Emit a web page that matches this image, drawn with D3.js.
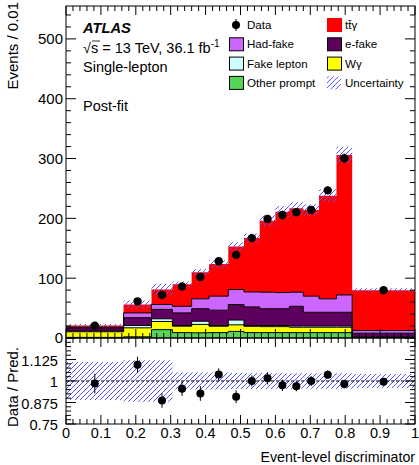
<!DOCTYPE html>
<html>
<head>
<meta charset="utf-8">
<script src="https://cdn.jsdelivr.net/npm/d3@7"></script>
<style>
  body { margin: 0; background: #fff; }
  svg { display: block; font-family: "Liberation Sans", Arial, Helvetica, sans-serif; }
</style>
</head>
<body>
<svg id="draw" width="419" height="465"></svg>
<script>
// bin edges of the event-level discriminator
var edges = [0, 0.165, 0.245, 0.305, 0.36, 0.41, 0.465, 0.51, 0.555, 0.6, 0.64, 0.68, 0.725, 0.775, 0.82, 1.0];

// post-fit predictions, events / 0.01 (stacked bottom to top)
var otherPrompt = [1, 2, 14, 9, 8.7, 9, 11, 9, 9, 9, 9, 9, 9, 9, 0.5];
var wGamma      = [9.4, 15, 13.6, 10.7, 14, 10.7, 11, 10.5, 10, 10, 9, 9, 9, 9, 0.5];
var fakeLepton  = [1.3, 4, 4.5, 1.3, 5.3, 1, 8, 1.5, 2, 2, 2, 2, 2, 2, 0.5];
var eFake       = [5, 13, 15.7, 21, 21, 25.8, 26, 31, 28, 28, 33, 23, 23, 23, 6.5];
var hadFake     = [1.3, 8, 8.3, 11, 16.5, 23.5, 25, 25, 27.6, 27, 23.6, 27, 22.5, 29, 4.5];
var ttgamma     = [3, 14, 24.9, 37, 44.5, 53.7, 72, 90, 119.4, 135, 140.4, 144, 172.5, 234, 67.5];

// data and its error, events / 0.01
var data    = [20.7, 61.3, 71.8, 86, 102, 128.3, 139, 167, 199, 205.7, 210.3, 214, 246.8, 300.5, 79.7];
var dataErr = [1.2, 2.6, 3.4, 3.8, 4.7, 4.5, 5.7, 5.4, 6.9, 7.0, 6.3, 6.2, 5.8, 7.8, 1.7];

// relative uncertainty of the prediction
var relUnc = [0.11, 0.12, 0.12, 0.05, 0.05, 0.05, 0.047, 0.047, 0.047, 0.045, 0.045, 0.045, 0.045, 0.045, 0.04];

var yTicks = [0, 100, 200, 300, 400, 500];
var ratioTicks = [0.75, 0.875, 1, 1.125];
var xTicks = [0, 0.1, 0.2, 0.3, 0.4, 0.5, 0.6, 0.7, 0.8, 0.9, 1];

var keys = ["other", "wgamma", "fake", "efake", "hadfake", "ttgamma"];
var colors = {
  other: "#55d455", wgamma: "#ffff00", fake: "#ccffff",
  efake: "#5e005e", hadfake: "#cc66ff", ttgamma: "#ff0000"
};

var pLeft = 66, pRight = 415, pTop = 6, pMid = 338, pBottom = 424;

var svg = d3.select("#draw");

var x = d3.scaleLinear().domain([0, 1]).range([pLeft, pRight]);
var y = d3.scaleLinear().domain([0, 555]).range([pMid, pTop]);
var yr = d3.scaleLinear().domain([0.75, 1.25]).range([pBottom, pMid]);

// hatch pattern for the uncertainty
var defs = svg.append("defs");
var pat = defs.append("pattern")
  .attr("id", "hatch")
  .attr("patternUnits", "userSpaceOnUse")
  .attr("width", 5).attr("height", 5);
pat.append("path")
  .attr("d", "M-1,1 l2,-2 M0,5 l5,-5 M4,6 l2,-2")
  .attr("stroke", "#5555ff")
  .attr("stroke-width", 1);

defs.append("clipPath").attr("id", "clipMain")
  .append("rect").attr("x", pLeft).attr("y", pTop).attr("width", pRight - pLeft).attr("height", pMid - pTop);
defs.append("clipPath").attr("id", "clipRatio")
  .append("rect").attr("x", pLeft).attr("y", pMid).attr("width", pRight - pLeft).attr("height", pBottom - pMid);

// rows per bin for the stack
var rows = edges.slice(0, -1).map(function(e, i) {
  return {
    other: otherPrompt[i], wgamma: wGamma[i], fake: fakeLepton[i],
    efake: eFake[i], hadfake: hadFake[i], ttgamma: ttgamma[i]
  };
});
var series = d3.stack().keys(keys)(rows);
var total = rows.map(function(r) { return d3.sum(keys, function(k) { return r[k]; }); });

// step points: one per bin edge, last bin repeated on the right edge
function steps(lo, hi) {
  var pts = lo.map(function(v, i) { return { x: edges[i], lo: v, hi: hi[i] }; });
  pts.push({ x: edges[edges.length - 1], lo: lo[lo.length - 1], hi: hi[hi.length - 1] });
  return pts;
}

var gMain = svg.append("g").attr("clip-path", "url(#clipMain)");

var area = d3.area()
  .x(function(d) { return x(d.x); })
  .y0(function(d) { return y(d.lo); })
  .y1(function(d) { return y(d.hi); })
  .curve(d3.curveStepAfter);
var topLine = d3.line()
  .x(function(d) { return x(d.x); })
  .y(function(d) { return y(d.hi); })
  .curve(d3.curveStepAfter);

series.forEach(function(s) {
  var pts = steps(s.map(function(d) { return d[0]; }), s.map(function(d) { return d[1]; }));
  gMain.append("path")
    .attr("d", area(pts))
    .attr("fill", colors[s.key]);
});
series.forEach(function(s) {
  if (s.key == "ttgamma") return;
  var pts = steps(s.map(function(d) { return d[0]; }), s.map(function(d) { return d[1]; }));
  gMain.append("path")
    .attr("d", topLine(pts))
    .attr("fill", "none")
    .attr("stroke", "#000")
    .attr("stroke-width", 1);
});

// uncertainty band on the total
var uncPts = steps(
  total.map(function(t, i) { return t * (1 - relUnc[i]); }),
  total.map(function(t, i) { return t * (1 + relUnc[i]); })
);
gMain.append("path").attr("d", area(uncPts)).attr("fill", "url(#hatch)");

// data points
var centers = edges.slice(0, -1).map(function(e, i) { return (e + edges[i + 1]) / 2; });
var pts = gMain.selectAll(".pt").data(data).enter().append("g").attr("class", "pt");
pts.append("line")
  .attr("x1", function(d, i) { return x(centers[i]); })
  .attr("x2", function(d, i) { return x(centers[i]); })
  .attr("y1", function(d, i) { return y(d - dataErr[i]); })
  .attr("y2", function(d, i) { return y(d + dataErr[i]); })
  .attr("stroke", "#000");
pts.append("circle")
  .attr("cx", function(d, i) { return x(centers[i]); })
  .attr("cy", function(d) { return y(d); })
  .attr("r", 4.2)
  .attr("fill", "#000");

// ratio panel
var gRatio = svg.append("g").attr("clip-path", "url(#clipRatio)");
var ratioArea = d3.area()
  .x(function(d) { return x(d.x); })
  .y0(function(d) { return yr(d.lo); })
  .y1(function(d) { return yr(d.hi); })
  .curve(d3.curveStepAfter);
var rUnc = steps(relUnc.map(function(u) { return 1 - u; }), relUnc.map(function(u) { return 1 + u; }));
gRatio.append("path").attr("d", ratioArea(rUnc)).attr("fill", "url(#hatch)");
gRatio.append("line")
  .attr("x1", pLeft).attr("x2", pRight)
  .attr("y1", yr(1)).attr("y2", yr(1))
  .attr("stroke", "#000").attr("stroke-dasharray", "3,2");

var ratio = data.map(function(d, i) { return d / total[i]; });
var rErr = dataErr.map(function(e, i) { return e / total[i]; });
var rp = gRatio.selectAll(".rp").data(ratio).enter().append("g").attr("class", "rp");
rp.append("line")
  .attr("x1", function(d, i) { return x(centers[i]); })
  .attr("x2", function(d, i) { return x(centers[i]); })
  .attr("y1", function(d, i) { return yr(d - rErr[i]); })
  .attr("y2", function(d, i) { return yr(d + rErr[i]); })
  .attr("stroke", "#000");
rp.append("circle")
  .attr("cx", function(d, i) { return x(centers[i]); })
  .attr("cy", function(d) { return yr(d); })
  .attr("r", 4)
  .attr("fill", "#000");

// frames and inward ticks
function frame(y0, y1) {
  svg.append("rect")
    .attr("x", pLeft).attr("y", y0)
    .attr("width", pRight - pLeft).attr("height", y1 - y0)
    .attr("fill", "none").attr("stroke", "#000").attr("stroke-width", 1);
}
frame(pTop, pMid);
frame(pMid, pBottom);

var ticks = svg.append("g").attr("stroke", "#000").attr("stroke-width", 1);
function xTicksAt(yy, dir) {
  d3.range(0, 1.0001, 0.02).forEach(function(v, i) {
    var len = (i % 5 == 0) ? 9 : 5;
    ticks.append("line").attr("x1", x(v)).attr("x2", x(v))
      .attr("y1", yy).attr("y2", yy + dir * len);
  });
}
xTicksAt(pTop, 1);
xTicksAt(pMid, -1);
xTicksAt(pMid, 1);
xTicksAt(pBottom, -1);

function yTicksAt(scale, vals, isMajor) {
  vals.forEach(function(v) {
    var len = isMajor(v) ? 10 : 5;
    ticks.append("line").attr("x1", pLeft).attr("x2", pLeft + len)
      .attr("y1", scale(v)).attr("y2", scale(v));
    ticks.append("line").attr("x1", pRight).attr("x2", pRight - len)
      .attr("y1", scale(v)).attr("y2", scale(v));
  });
}
yTicksAt(y, d3.range(0, 555, 20), function(v) { return v % 100 == 0; });
yTicksAt(yr, d3.range(0.75, 1.2501, 0.025), function(v) {
  return Math.abs(v * 8 - Math.round(v * 8)) < 1e-6;
});

// tick labels
svg.append("g").selectAll("text").data(yTicks).enter().append("text")
  .attr("x", pLeft - 3).attr("y", function(d) { return y(d); })
  .attr("dy", "0.36em").attr("text-anchor", "end")
  .attr("font-size", 15).text(function(d) { return d; });

svg.append("g").selectAll("text").data(ratioTicks).enter().append("text")
  .attr("x", pLeft - 8).attr("y", function(d) { return yr(d); })
  .attr("dy", "0.42em").attr("text-anchor", "end")
  .attr("font-size", 14.7).text(function(d) { return d; });

svg.append("g").selectAll("text").data(xTicks).enter().append("text")
  .attr("x", function(d) { return x(d); }).attr("y", 438)
  .attr("text-anchor", "middle")
  .attr("font-size", 14.5).text(function(d) { return d; });

// axis titles
svg.append("text")
  .attr("x", pRight).attr("y", 462).attr("text-anchor", "end")
  .attr("font-size", 14.2).text("Event-level discriminator");
svg.append("text")
  .attr("transform", "translate(18,2) rotate(-90)")
  .attr("text-anchor", "end")
  .attr("font-size", 15).text("Events / 0.01");
svg.append("text")
  .attr("transform", "translate(18,387) rotate(-90)")
  .attr("text-anchor", "middle")
  .attr("font-size", 15).text("Data / Pred.");

// labels
svg.append("text").attr("x", 83).attr("y", 33)
  .attr("font-size", 14.7).attr("font-weight", "bold").attr("font-style", "italic")
  .text("ATLAS");
var lumi = svg.append("text").attr("x", 83).attr("y", 53).attr("font-size", 14.5);
lumi.append("tspan").text("\u221As = 13 TeV, 36.1  fb");
lumi.append("tspan").attr("dy", -6).attr("font-size", 10).text("-1");
svg.append("line").attr("x1", 92).attr("x2", 100).attr("y1", 41).attr("y2", 41)
  .attr("stroke", "#000").attr("stroke-width", 0.8);
svg.append("text").attr("x", 83).attr("y", 72).attr("font-size", 14.5).text("Single-lepton");
svg.append("text").attr("x", 83).attr("y", 111).attr("font-size", 14.5).text("Post-fit");

// legend
var legend = [
  { label: "Data", type: "data", col: 0, row: 0 },
  { label: "t\u0074\u0304\u03b3", type: "ttgamma", col: 1, row: 0 },
  { label: "Had-fake", type: "hadfake", col: 0, row: 1 },
  { label: "e-fake", type: "efake", col: 1, row: 1 },
  { label: "Fake lepton", type: "fake", col: 0, row: 2 },
  { label: "W\u03b3", type: "wgamma", col: 1, row: 2 },
  { label: "Other prompt", type: "other", col: 0, row: 3 },
  { label: "Uncertainty", type: "unc", col: 1, row: 3 }
];
var colX = [229, 327];
var lg = svg.selectAll(".lg").data(legend).enter().append("g")
  .attr("class", "lg")
  .attr("transform", function(d) { return "translate(" + colX[d.col] + "," + (25 + d.row * 19.3) + ")"; });
lg.each(function(d) {
  var g = d3.select(this);
  if (d.type == "data") {
    g.append("line").attr("x1", 7).attr("x2", 7).attr("y1", -6).attr("y2", 6).attr("stroke", "#000");
    g.append("circle").attr("cx", 7).attr("cy", 0).attr("r", 4).attr("fill", "#000");
  } else if (d.type == "unc") {
    g.append("rect").attr("x", 0).attr("y", -6.5).attr("width", 14).attr("height", 13)
      .attr("fill", "url(#hatch)");
  } else {
    g.append("rect").attr("x", 0.5).attr("y", -6.5).attr("width", 14).attr("height", 13)
      .attr("fill", colors[d.type])
      .attr("stroke", d.type == "ttgamma" ? colors[d.type] : "#000");
  }
  g.append("text").attr("x", 18).attr("y", 0).attr("dy", "0.36em")
    .attr("font-size", 11.6).text(d.label);
});
</script>
</body>
</html>
